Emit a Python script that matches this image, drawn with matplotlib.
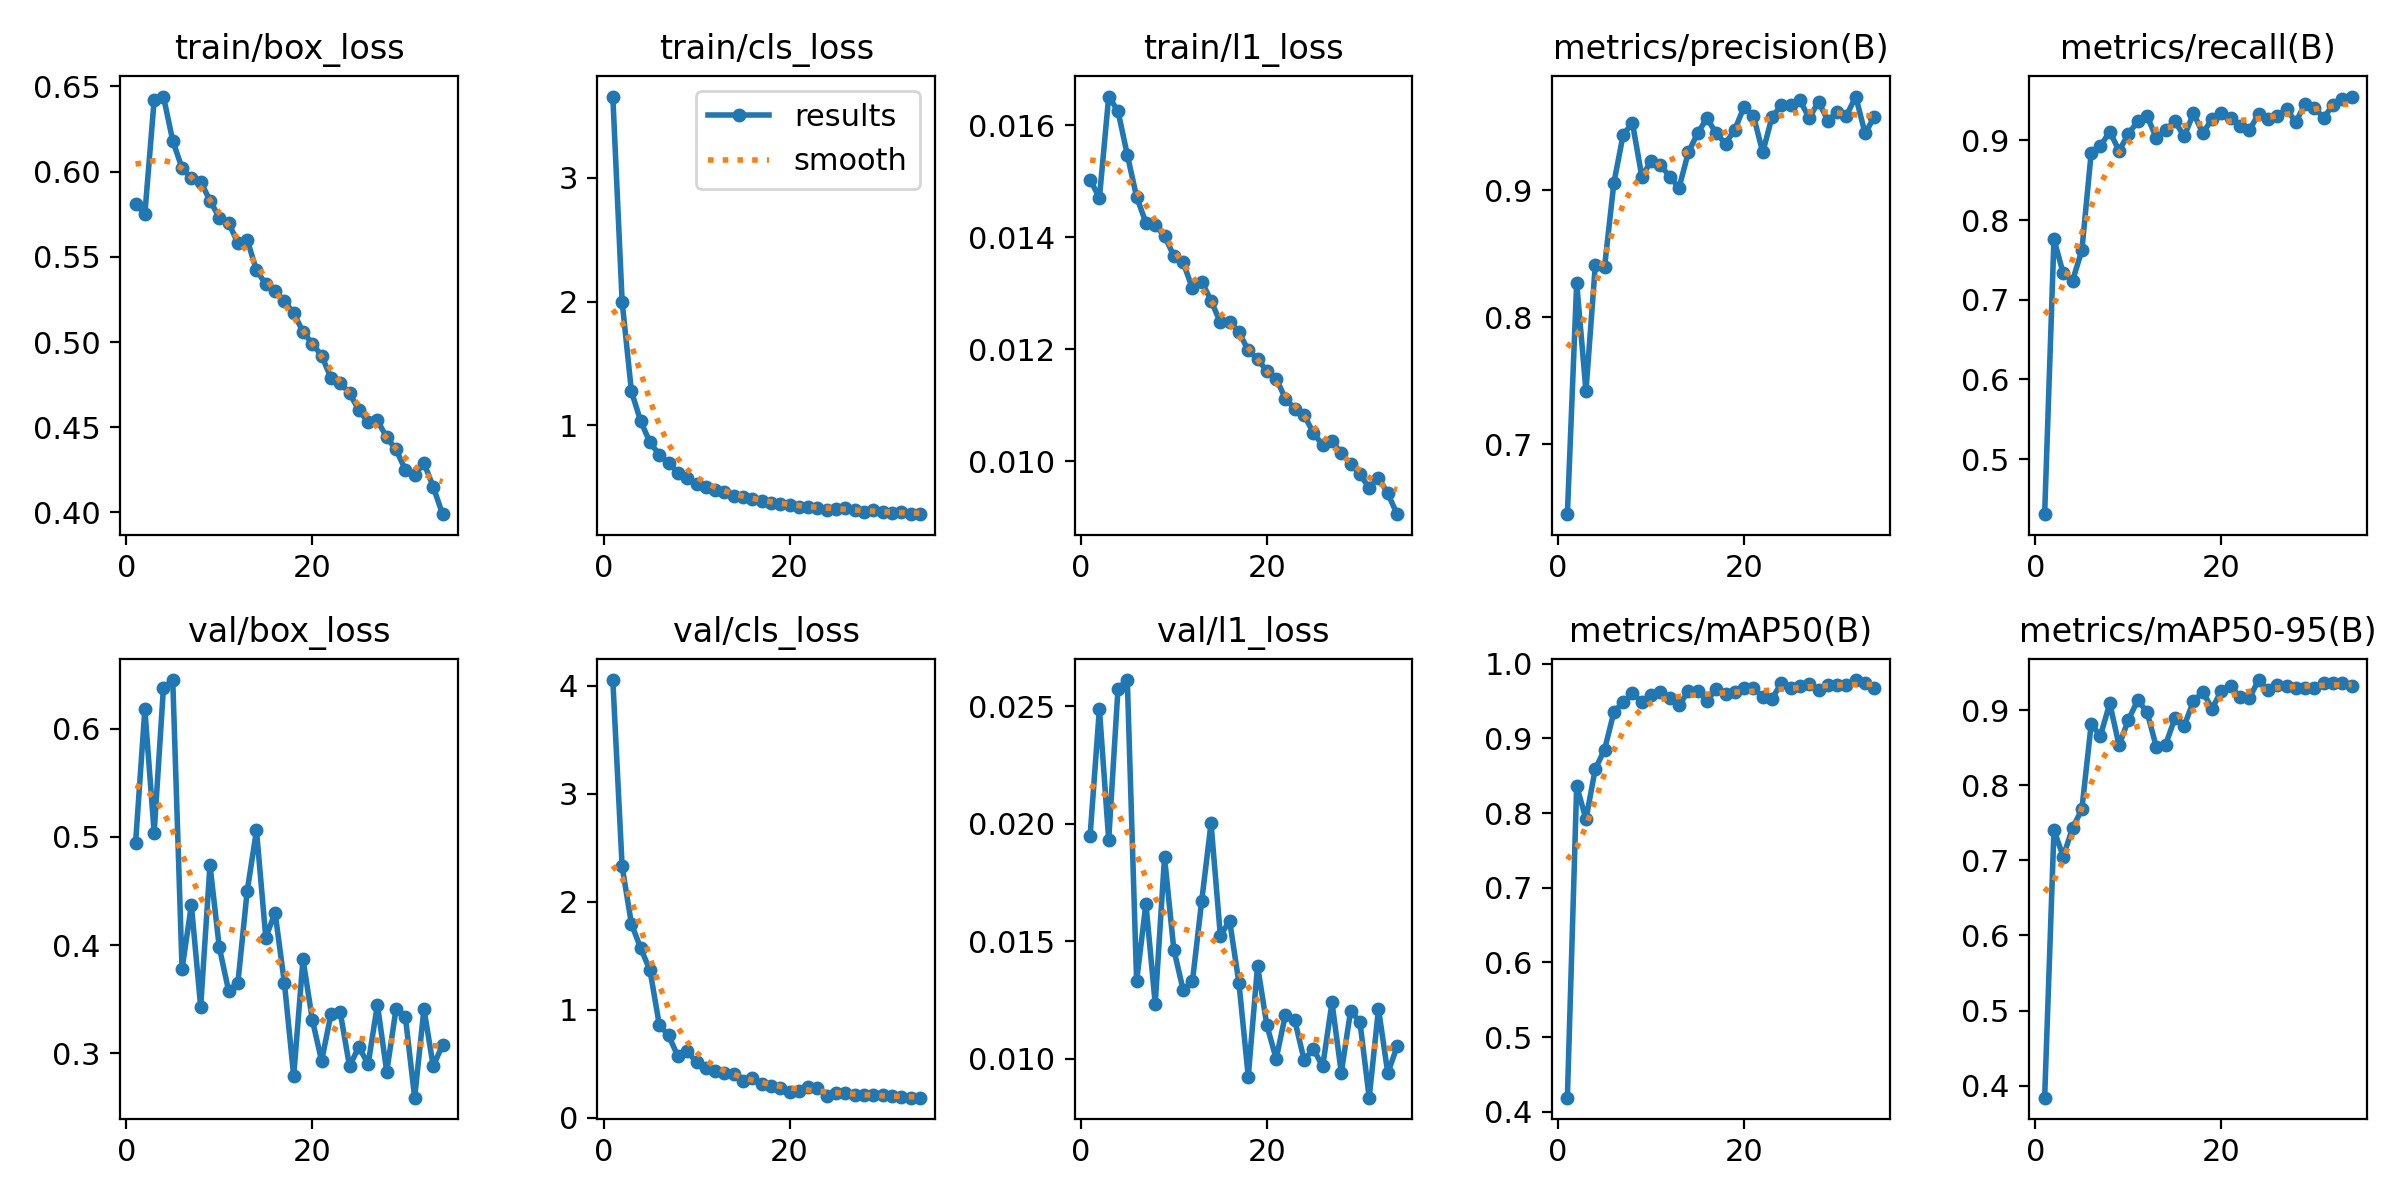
import numpy as np
import matplotlib
matplotlib.use("Agg")
import matplotlib.pyplot as plt

plt.rcParams["font.size"] = 11

epochs = list(range(1, 35))

titles = ["train/box_loss", "train/cls_loss", "train/l1_loss",
          "metrics/precision(B)", "metrics/recall(B)",
          "val/box_loss", "val/cls_loss", "val/l1_loss",
          "metrics/mAP50(B)", "metrics/mAP50-95(B)"]

train_box_loss = [0.581, 0.575, 0.642, 0.644, 0.618, 0.602, 0.596, 0.594, 0.583, 0.573,
                  0.570, 0.558, 0.560, 0.542, 0.534, 0.530, 0.524, 0.517, 0.506, 0.499,
                  0.492, 0.479, 0.476, 0.470, 0.460, 0.453, 0.454, 0.444, 0.437, 0.425,
                  0.422, 0.429, 0.415, 0.399]
train_cls_loss = [3.658, 2.000, 1.273, 1.031, 0.860, 0.761, 0.696, 0.612, 0.571, 0.528,
                  0.503, 0.478, 0.457, 0.426, 0.416, 0.401, 0.388, 0.373, 0.363, 0.354,
                  0.342, 0.339, 0.332, 0.317, 0.323, 0.332, 0.317, 0.301, 0.311, 0.295,
                  0.286, 0.295, 0.280, 0.280]
train_l1_loss = [0.01503, 0.01470, 0.01651, 0.01625, 0.01547, 0.01472, 0.01426, 0.01422,
                 0.01402, 0.01367, 0.01355, 0.01309, 0.01321, 0.01287, 0.01248, 0.01249,
                 0.01231, 0.01198, 0.01183, 0.01161, 0.01148, 0.01112, 0.01094, 0.01083,
                 0.01051, 0.01029, 0.01036, 0.01015, 0.00996, 0.00977, 0.00953, 0.00971,
                 0.00943, 0.00906]
precision = [0.645, 0.827, 0.742, 0.841, 0.840, 0.906, 0.944, 0.953, 0.911, 0.923,
             0.920, 0.911, 0.902, 0.930, 0.945, 0.957, 0.945, 0.937, 0.948, 0.966,
             0.959, 0.930, 0.958, 0.967, 0.967, 0.971, 0.957, 0.970, 0.955, 0.962,
             0.959, 0.974, 0.945, 0.958]
recall = [0.431, 0.776, 0.733, 0.724, 0.762, 0.884, 0.893, 0.911, 0.887, 0.908,
          0.924, 0.931, 0.903, 0.913, 0.924, 0.905, 0.934, 0.909, 0.927, 0.934,
          0.928, 0.918, 0.913, 0.933, 0.927, 0.931, 0.939, 0.923, 0.946, 0.941,
          0.928, 0.945, 0.952, 0.955]
val_box_loss = [0.494, 0.618, 0.504, 0.638, 0.645, 0.378, 0.437, 0.343, 0.474, 0.398,
                0.358, 0.365, 0.450, 0.506, 0.407, 0.430, 0.365, 0.279, 0.387, 0.331,
                0.293, 0.336, 0.338, 0.288, 0.306, 0.290, 0.345, 0.283, 0.341, 0.334,
                0.259, 0.341, 0.288, 0.308]
val_cls_loss = [4.053, 2.327, 1.796, 1.570, 1.365, 0.859, 0.763, 0.569, 0.615, 0.516,
                0.463, 0.438, 0.420, 0.410, 0.339, 0.367, 0.311, 0.293, 0.275, 0.240,
                0.250, 0.286, 0.275, 0.205, 0.233, 0.226, 0.215, 0.208, 0.208, 0.208,
                0.205, 0.190, 0.187, 0.187]
val_l1_loss = [0.01948, 0.02489, 0.01931, 0.02575, 0.02611, 0.01330, 0.01659, 0.01233,
               0.01857, 0.01464, 0.01293, 0.01329, 0.01672, 0.02001, 0.01524, 0.01586,
               0.01322, 0.00924, 0.01395, 0.01142, 0.01000, 0.01187, 0.01163, 0.00995,
               0.01041, 0.00967, 0.01239, 0.00940, 0.01203, 0.01158, 0.00834, 0.01212,
               0.00938, 0.01052]
map50 = [0.419, 0.836, 0.792, 0.859, 0.885, 0.935, 0.949, 0.960, 0.949, 0.958,
         0.962, 0.954, 0.944, 0.963, 0.964, 0.950, 0.966, 0.959, 0.962, 0.968,
         0.968, 0.955, 0.953, 0.974, 0.967, 0.970, 0.973, 0.965, 0.972, 0.972,
         0.971, 0.978, 0.974, 0.968]
map50_95 = [0.384, 0.740, 0.705, 0.743, 0.768, 0.881, 0.866, 0.909, 0.853, 0.887,
            0.913, 0.898, 0.851, 0.854, 0.889, 0.879, 0.912, 0.924, 0.902, 0.926,
            0.932, 0.917, 0.916, 0.940, 0.927, 0.934, 0.932, 0.930, 0.930, 0.930,
            0.936, 0.936, 0.936, 0.932]

series = [train_box_loss, train_cls_loss, train_l1_loss, precision, recall,
          val_box_loss, val_cls_loss, val_l1_loss, map50, map50_95]


def gaussian_smooth(y, sigma=3.0, truncate=4.0):
    """Same as scipy.ndimage.gaussian_filter1d (mode='reflect')."""
    y = np.asarray(y, dtype=float)
    r = int(truncate * sigma + 0.5)
    k = np.exp(-0.5 * (np.arange(-r, r + 1) / sigma) ** 2)
    k /= k.sum()
    n = len(y)
    idx = np.arange(-r, n + r)
    period = 2 * n
    idx = np.mod(idx, period)
    idx = np.where(idx >= n, period - 1 - idx, idx)
    ypad = y[idx]
    return np.convolve(ypad, k, mode="valid")


fig, axes = plt.subplots(2, 5, figsize=(12, 6), tight_layout=True)
axes = axes.ravel()
x = np.array(epochs)
for i, (title, y) in enumerate(zip(titles, series)):
    ax = axes[i]
    ax.plot(x, y, marker=".", label="results", linewidth=2, markersize=8)
    ax.plot(x, gaussian_smooth(y), ":", label="smooth", linewidth=2)
    ax.set_title(title, fontsize=12)
axes[1].legend()
fig.savefig("out.png", dpi=200)
